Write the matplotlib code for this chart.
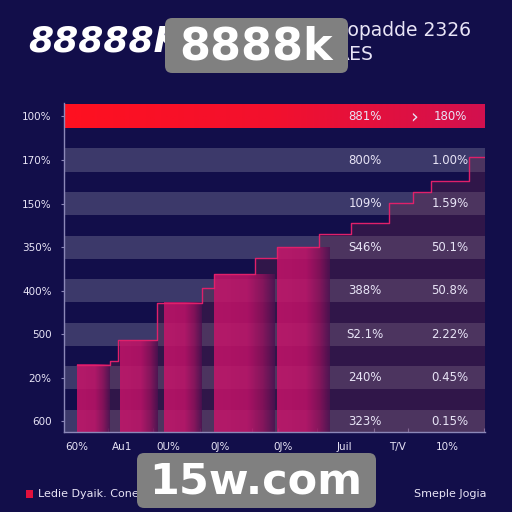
import numpy as np
import matplotlib
matplotlib.use('Agg')
import matplotlib.pyplot as plt
from matplotlib.colors import LinearSegmentedColormap
from matplotlib.patches import FancyBboxPatch, Rectangle

BG = '#120e4a'
TXT = '#e8e4f6'
AXC = '#8c88b8'

# band labels, top to bottom
row_labels = ['100%', '170%', '150%', '350%', '400%', '500', '20%', '600']
col1 = ['881%', '800%', '109%', 'S46%', '388%', 'S2.1%', '240%', '323%']
col2 = ['180%', '1.00%', '1.59%', '50.1%', '50.8%', '2.22%', '0.45%', '0.15%']

x_labels = ['60%', 'Au1', '0U%', '0J%', '0J%', 'Juil', 'T/V', '10%']
x_label_pos = [3.1, 13.8, 24.7, 37.1, 52.0, 66.7, 79.1, 91.0]
x_marks = [10.5, 21.1, 32.3, 44.7, 50.8, 60.1, 73.6, 81.7, 99.8]

# stepped cumulative line
step_edges = [3.1, 10.9, 12.8, 22.1, 32.8, 35.6, 45.4, 50.6, 60.5, 68.2, 77.2, 82.9, 87.2, 96.2, 100]
step_vals = [1.55, 1.63, 2.11, 2.97, 3.31, 3.63, 4.0, 4.25, 4.55, 4.8, 5.26, 5.52, 5.77, 6.32]

# highlighted bars
bar_left = [3.1, 13.3, 23.8, 35.6, 50.6]
bar_right = [10.9, 22.1, 32.8, 50.0, 63.0]
bar_top = [1.54, 2.11, 2.97, 3.63, 4.25]

fig = plt.figure(figsize=(5.12, 5.12), dpi=100, facecolor=BG)
ax = fig.add_axes([64 / 512, 80 / 512, 421 / 512, 329 / 512])
ax.set_facecolor(BG)
ax.set_xlim(0, 100)
ax.set_ylim(0, 7.56)

n = len(row_labels)
centers = [0.25 + (n - 1 - i) for i in range(n)]
half = 0.265

# stripes
for i, c in enumerate(centers):
    if i == 0:
        grad = np.linspace(0, 1, 256).reshape(1, -1)
        cm = LinearSegmentedColormap.from_list('red', ['#ff1020', '#f2102e', '#d2104f'])
        ax.imshow(grad, cmap=cm, extent=(0, 100, c - half, c + half), aspect='auto', zorder=6)
    else:
        ax.axhspan(c - half, c + half, color='white', alpha=0.18, lw=0, zorder=1)

# area under the step line
ax.fill_between(step_edges, step_vals + [step_vals[-1]], step='post',
                color='#702a48', alpha=0.32, lw=0, zorder=2)

# gradient bars
bar_cm = LinearSegmentedColormap.from_list(
    'bar', [(0, '#cc146c'), (0.55, '#c4126a'), (0.8, '#92105c'), (1, '#4e1050')])
for l, r, t in zip(bar_left, bar_right, bar_top):
    g = np.linspace(0, 1, 200).reshape(1, -1)
    ax.imshow(g, cmap=bar_cm, extent=(l, r, 0, t), aspect='auto', alpha=0.82, zorder=3)

ax.step(step_edges, step_vals + [step_vals[-1]], where='post', color='#e0206a', lw=1.0, zorder=5)

# value columns
for i, c in enumerate(centers):
    ax.text(71.5, c, col1[i], color=TXT, fontsize=8.5, ha='center', va='center', zorder=7)
    ax.text(91.7, c, col2[i], color=TXT, fontsize=8.5, ha='center', va='center', zorder=7)
ax.text(83.1, centers[0], '\u203a', color=TXT, fontsize=14, ha='center', va='center', zorder=7)

ax.set_yticks(centers)
ax.set_yticklabels(row_labels, color=TXT, fontsize=7.5)
ax.set_xticks(x_marks)
ax.set_xticklabels([])
ax.set_xticks(x_label_pos, minor=True)
ax.set_xticklabels(x_labels, minor=True, color=TXT, fontsize=7.5)
ax.tick_params(axis='y', length=2, color=AXC, pad=7)
ax.tick_params(axis='x', which='major', length=3, direction='in', color=AXC)
ax.tick_params(axis='x', which='minor', length=0, pad=7)
for s in ['top', 'right']:
    ax.spines[s].set_visible(False)
for s in ['left', 'bottom']:
    ax.spines[s].set_color(AXC)
    ax.spines[s].set_linewidth(1)
    ax.spines[s].set_zorder(8)
ax.grid(False)

# header
fig.text(28 / 512, 1 - 42 / 512, '88888K', color='white', fontsize=26, fontweight='heavy',
         style='italic', ha='left', va='center')
fig.text(333 / 512, 1 - 31 / 512, 'Dopadde 2326', color=TXT, fontsize=13.5, ha='left', va='center')
fig.text(336 / 512, 1 - 55 / 512, 'RES', color=TXT, fontsize=13.5, ha='left', va='center')

# watermark boxes
fig.patches.append(FancyBboxPatch((165 / 512, 1 - 73 / 512), 183 / 512, 55 / 512,
                                  boxstyle='round,pad=0.0,rounding_size=0.014',
                                  transform=fig.transFigure, fc='#808080', ec='none', zorder=10))
fig.text(256 / 512, 1 - 47 / 512, '8888k', color='white', fontsize=32, fontweight='bold',
         ha='center', va='center', zorder=11)
fig.patches.append(FancyBboxPatch((137 / 512, 1 - 508 / 512), 239 / 512, 55 / 512,
                                  boxstyle='round,pad=0.0,rounding_size=0.014',
                                  transform=fig.transFigure, fc='#808080', ec='none', zorder=10))
fig.text(256 / 512, 1 - 482 / 512, '15w.com', color='white', fontsize=31, fontweight='bold',
         ha='center', va='center', zorder=11)

# legend
fig.patches.append(Rectangle((26 / 512, 1 - 498 / 512), 7 / 512, 8 / 512,
                             transform=fig.transFigure, fc='#e0103c', ec='none'))
fig.text(38 / 512, 1 - 494 / 512, 'Ledie Dyaik. Cone', color=TXT, fontsize=8, ha='left', va='center')
fig.text(487 / 512, 1 - 494 / 512, 'Smeple Jogia', color=TXT, fontsize=8, ha='right', va='center')

fig.savefig('out.png', dpi=100, facecolor=BG)
